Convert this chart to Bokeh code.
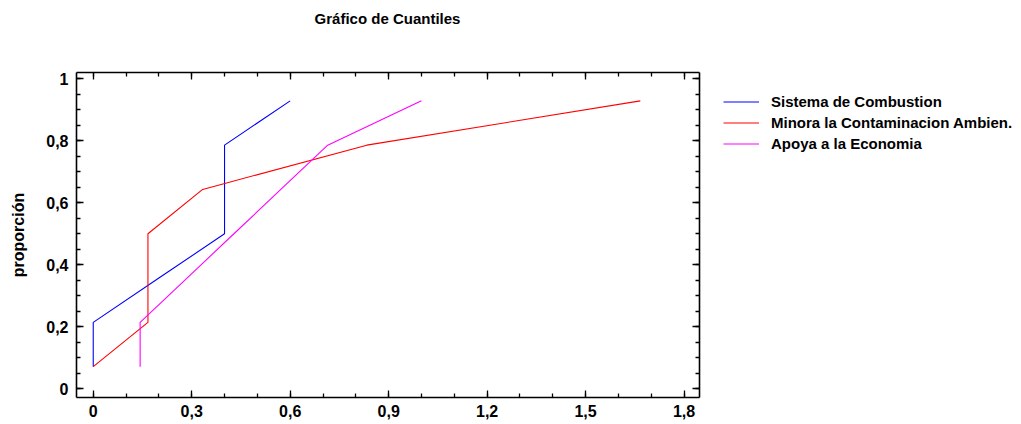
from bokeh.plotting import figure
from bokeh.layouts import row, column
from bokeh.models import (LinearAxis, FixedTicker, CustomJSTickFormatter, Range1d,
                          Legend, LegendItem, Label)
from bokeh.embed import file_html
from bokeh.resources import INLINE

# ---- data (quantile plot, n = 7) ----
proportions = [0.0714, 0.2143, 0.3571, 0.5, 0.6429, 0.7857, 0.9286]
sistema_combustion = [0.0, 0.0, 0.2, 0.4, 0.4, 0.4, 0.6]
minora_contaminacion = [0.0, 1/6, 1/6, 1/6, 1/3, 5/6, 5/3]
apoya_economia = [1/7, 1/7, 2/7, 3/7, 4/7, 5/7, 1.0]
series_names = ["Sistema de Combustion", "Minora la Contaminacion Ambien.", "Apoya a la Economia"]
series_colors = ["#0000FF", "#FF0000", "#FF00FF"]
title_text = "Gráfico de Cuantiles"
y_label = "proporción"

x_major = [0, 0.3, 0.6, 0.9, 1.2, 1.5, 1.8]
x_minor = [round(0.1 * i, 1) for i in range(0, 19)]
y_major = [0, 0.2, 0.4, 0.6, 0.8, 1.0]
y_minor = [round(0.05 * i, 2) for i in range(0, 21)]

FONT = "Liberation Sans"


def blank(fig):
    fig.grid.visible = False
    fig.outline_line_color = None
    fig.background_fill_color = "white"
    fig.border_fill_color = "white"

# ---- title strip (its frame is aligned with the chart frame) ----
tf = figure(width=704, height=36, output_backend="svg", toolbar_location=None,
            x_range=Range1d(76, 699), y_range=Range1d(0, 36), min_border=0,
            x_axis_location=None, y_axis_location=None)
blank(tf)
tf.add_layout(Label(x=387, y=18, text=title_text, text_align="center", text_baseline="middle",
                    text_font=FONT, text_font_style="bold", text_font_size="15px",
                    text_color="black"))

# ---- main chart ----
p = figure(frame_width=623, frame_height=325, output_backend="svg", toolbar_location=None,
           x_range=Range1d(-0.051, 1.847), y_range=Range1d(-0.028, 1.02),
           min_border_left=76, min_border_right=5, min_border_top=36, min_border_bottom=27,
           x_axis_location=None, y_axis_location=None)
blank(p)

fmt = CustomJSTickFormatter(code="var s = (Math.round(tick*100)/100).toString(); return s.replace('.', ',');")


def make_axis(ticks, minor, show_labels):
    ax = LinearAxis(ticker=FixedTicker(ticks=ticks, minor_ticks=minor), formatter=fmt)
    ax.axis_line_width = 1.6
    ax.axis_line_color = "black"
    ax.major_tick_in = 7
    ax.major_tick_out = 0
    ax.minor_tick_in = 4
    ax.minor_tick_out = 0
    ax.major_tick_line_width = 1.3
    ax.minor_tick_line_width = 1.3
    ax.major_label_text_font = FONT
    ax.major_label_text_font_style = "bold"
    ax.major_label_text_font_size = "16px"
    ax.major_label_text_color = "black"
    if not show_labels:
        ax.major_label_text_alpha = 0
        ax.major_label_text_font_size = "1px"
    return ax

xb = make_axis(x_major, x_minor, True)
xb.major_label_standoff = 7
p.add_layout(xb, "below")
xt = make_axis(x_major, x_minor, False)
xt.major_label_standoff = 0
p.add_layout(xt, "above")
yl = make_axis(y_major, y_minor, True)
yl.major_label_standoff = 8
yl.axis_label = y_label
yl.axis_label_text_font = FONT
yl.axis_label_text_font_style = "bold"
yl.axis_label_text_font_size = "16px"
yl.axis_label_text_color = "black"
yl.axis_label_standoff = 16
p.add_layout(yl, "left")
yr = make_axis(y_major, y_minor, False)
yr.major_label_standoff = 0
p.add_layout(yr, "right")

for xs, col in zip([sistema_combustion, minora_contaminacion, apoya_economia], series_colors):
    p.line(xs, proportions, line_color=col, line_width=1.1)

# ---- legend panel (to the right of the chart) ----
q = figure(width=317, height=424, output_backend="svg", toolbar_location=None,
           x_range=Range1d(0, 1), y_range=Range1d(0, 1), min_border=0,
           x_axis_location=None, y_axis_location=None)
blank(q)
items = []
for name, xs, col in zip(series_names, [sistema_combustion, minora_contaminacion, apoya_economia], series_colors):
    r = q.line(xs, proportions, line_color=col, line_width=1.1, visible=False)
    items.append(LegendItem(label=name, renderers=[r]))

legend = Legend(items=items, location=(19, 270), orientation="vertical",
                label_text_font=FONT, label_text_font_style="bold", label_text_font_size="15px",
                label_text_color="black",
                glyph_width=36, label_standoff=12, spacing=0, padding=0, margin=0,
                border_line_color=None, background_fill_alpha=0, label_height=21, glyph_height=21)
q.add_layout(legend, "center")

layout = row(column(tf, p, spacing=0), q, spacing=0)
open("out.html", "w").write(file_html(layout, INLINE))
